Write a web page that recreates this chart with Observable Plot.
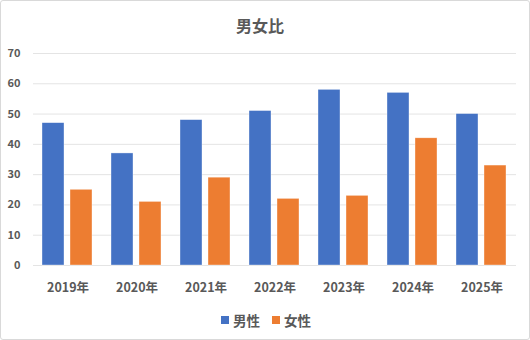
<!DOCTYPE html>
<html><head><meta charset="utf-8">
<script src="https://cdn.jsdelivr.net/npm/d3@7"></script>
<script src="https://cdn.jsdelivr.net/npm/@observablehq/plot@0.6"></script>
<style>
body{margin:0;background:#fff;}
#wrap{position:relative;width:530px;height:340px;font-family:"Noto Sans CJK JP","Noto Sans",sans-serif;color:#595959;background:#fff;}
#frame{position:absolute;left:0;top:0;width:530px;height:340px;box-sizing:border-box;border:1px solid #d9d9d9;border-radius:3px;pointer-events:none;}
#title{position:absolute;left:0;top:12px;width:520px;height:26px;line-height:26px;text-align:center;font-size:16px;font-weight:bold;}
#chart{position:absolute;left:0;top:40px;}
#legend{position:absolute;left:0;top:310px;width:532px;height:20px;display:flex;justify-content:center;align-items:center;gap:12px;font-size:13.5px;font-weight:bold;}
.item{display:flex;align-items:center;gap:4px;}
.sw{width:8px;height:8px;display:inline-block;}
</style>
</head><body>
<div id="wrap">
  <div id="title">男女比</div>
  <div id="chart"></div>
  <div id="legend"></div>
  <div id="frame"></div>
</div>
<script>
const years = ["2019年","2020年","2021年","2022年","2023年","2024年","2025年"];
const series = ["男性","女性"];
const colors = ["#4472C4","#ED7D31"];
const male = [47,37,48,51,58,57,50];
const female = [25,21,29,22,23,42,33];
const yTicks = [0,10,20,30,40,50,60,70];

const data = [];
years.forEach((y,i)=>{
  data.push({year:y, sex:series[0], value:male[i]});
  data.push({year:y, sex:series[1], value:female[i]});
});

const chart = Plot.plot({
  width:530, height:260,
  marginTop:13, marginBottom:35, marginLeft:33, marginRight:14,
  style:{fontFamily:'"Noto Sans CJK JP","Noto Sans",sans-serif', fontSize:"11px", fontWeight:"bold", color:"#595959", background:"transparent"},
  fx:{domain:years, padding:0, label:null},
  x:{domain:series, axis:null, paddingInner:0.21, paddingOuter:0.315},
  y:{domain:[0,70], ticks:yTicks, label:null},
  color:{domain:series, range:colors},
  marks:[
    Plot.gridY(yTicks, {stroke:"#e4e4e4", strokeOpacity:1}),
    Plot.axisY(yTicks, {tickSize:0, tickPadding:13, label:null, fill:"#595959"}),
    Plot.axisFx({anchor:"bottom", tickSize:0, tickPadding:18, label:null, fontSize:12.5, fill:"#595959"}),
    Plot.barY(data, {fx:"year", x:"sex", y:"value", fill:"sex", stroke:"#ffffff", strokeOpacity:0.6, strokeWidth:0.6})
  ]
});
document.getElementById("chart").appendChild(chart);

const legend = document.getElementById("legend");
series.forEach((s,i)=>{
  const it = document.createElement("div"); it.className="item";
  const sw = document.createElement("span"); sw.className="sw"; sw.style.background=colors[i];
  const tx = document.createElement("span"); tx.textContent=s;
  it.appendChild(sw); it.appendChild(tx); legend.appendChild(it);
});
</script>
</body></html>
